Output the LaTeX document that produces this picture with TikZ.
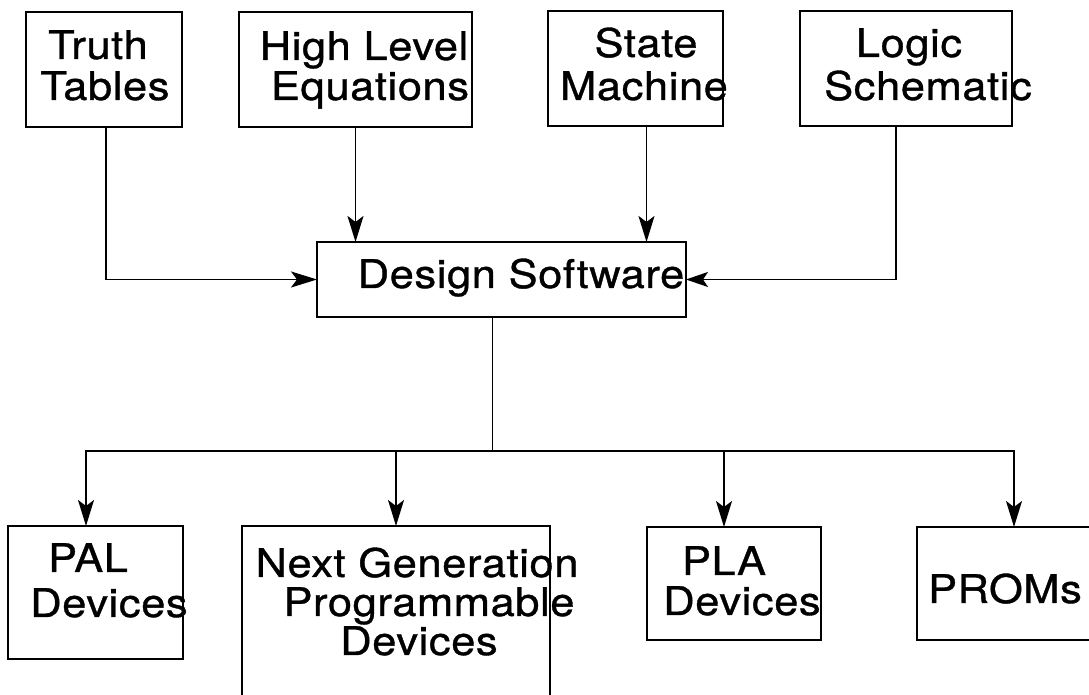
\documentclass[tikz,border=0pt]{standalone}
\usepackage{fontspec}
\setmainfont{TeX Gyre Heros}[LetterSpace=1.5, FakeStretch=1.1, FakeBold=0.9]
\usetikzlibrary{arrows.meta}
\begin{document}
\begin{tikzpicture}[x=1pt,y=1pt,
  box/.style={draw, line width=1.8pt, inner sep=0pt, outer sep=0pt},
  txt/.style={anchor=base, inner sep=0pt, font=\fontsize{39.5}{40}\selectfont},
  conn/.style={line width=1.8pt},
  arr/.style={conn, -{Stealth[length=26pt,width=16pt,inset=6pt]}},
  arrs/.style={conn, -{Stealth[length=22pt,width=15pt,inset=5pt]}}]
\useasboundingbox (0,0) rectangle (1089,695);
\fill[white] (0,0) rectangle (1089,695);
\clip (0,0) rectangle (1089,695);

% top boxes
\node[box, minimum width=156, minimum height=115] (truth) at (104,625.5) {};
\node[box, minimum width=233, minimum height=115] (high) at (355.5,625.5) {};
\node[box, minimum width=175, minimum height=115] (state) at (635.5,626.5) {};
\node[box, minimum width=212, minimum height=115] (logic) at (906,626.5) {};
% centre
\node[box, minimum width=369, minimum height=75] (design) at (501.5,415.5) {};
% bottom boxes
\node[box, minimum width=175, minimum height=133] (pal) at (95.5,102.5) {};
\node[box, minimum width=308, minimum height=194] (next) at (396,72) {};
\node[box, minimum width=174, minimum height=113] (pla) at (734,111.5) {};
\node[box, minimum width=194, minimum height=113] (proms) at (1014,111.5) {};

% texts
\node[txt] (t1a) at (98,636) {Truth};
\node[txt] (t1b) at (105,595) {Tables};
\node[txt] (t2a) at (364,635) {High Level};
\node[txt] (t2b) at (370,595) {Equations};
\node[txt] (t3a) at (646,638) {State};
\node[txt] (t3b) at (644,595) {Machine};
\node[txt] (t4a) at (909,638) {Logic};
\node[txt] (t4b) at (928,595) {Schematic};
\node[txt] (t5) at (521,407) {Design Software};
\node[txt] (t6a) at (88,123) {PAL};
\node[txt] (t6b) at (109,78) {Devices};
\node[txt] (t7a) at (417,118) {Next Generation};
\node[txt] (t7b) at (429,79) {Programmable};
\node[txt] (t7c) at (419,40) {Devices};
\node[txt] (t8a) at (724,120) {PLA};
\node[txt] (t8b) at (742,80) {Devices};
\node[txt] (t9) at (1005,92) {PROMs};

% connectors
\draw[arr] ([xshift=2pt]truth.south) |- (design.west);
\draw[arr] (high.south) -- (high.south |- design.north);
\draw[arr] ([xshift=11pt]state.south) -- ([xshift=11pt]state.south |- design.north);
\draw[arrs] ([xshift=-10pt]logic.south) |- (design.east);
\coordinate (bus) at (492.5,244);
\draw[conn] ([xshift=-9pt]design.south) -- (bus);
\draw[arr] (bus) -| ([xshift=-9.5pt]pal.north);
\draw[arr] (bus) -| (next.north);
\draw[arr] (bus) -| ([xshift=-10pt]pla.north);
\draw[arr] (bus) -| (proms.north);
\end{tikzpicture}
\end{document}
